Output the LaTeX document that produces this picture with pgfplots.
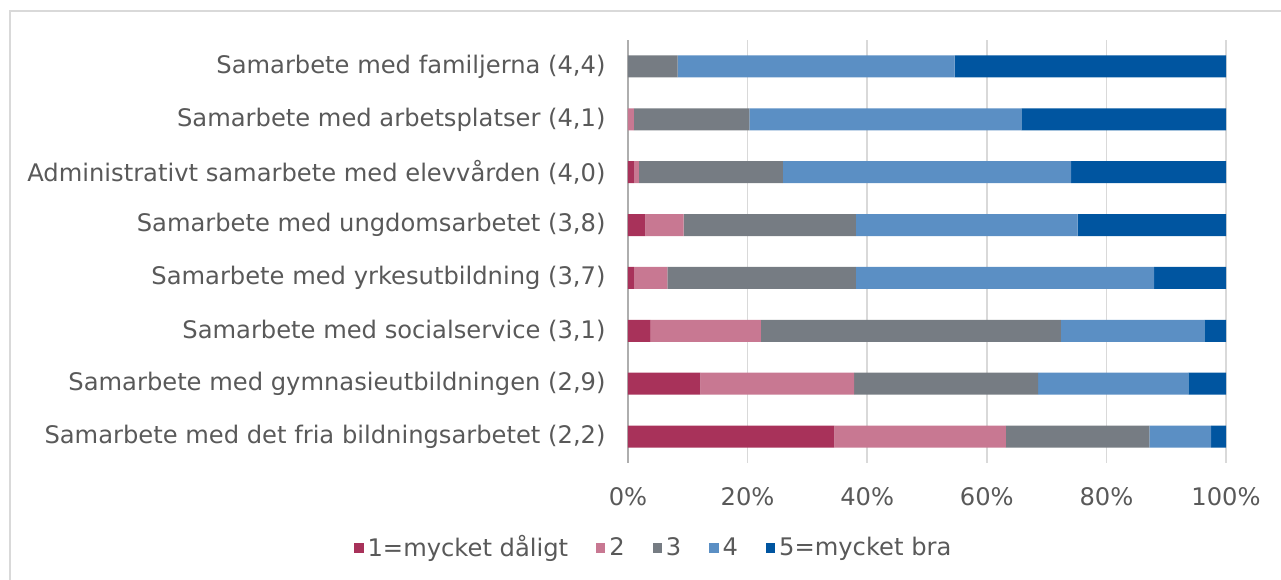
\documentclass[border=0pt]{standalone}
\usepackage{fontspec}
\setmainfont{DejaVu Sans}
\usepackage{pgfplots}
\pgfplotsset{compat=1.18}
\definecolor{c1}{RGB}{168,50,90}
\definecolor{c2}{RGB}{200,120,146}
\definecolor{c3}{RGB}{118,124,131}
\definecolor{c4}{RGB}{91,143,196}
\definecolor{c5}{RGB}{0,85,160}
\definecolor{txt}{RGB}{89,89,89}
\definecolor{gridc}{RGB}{217,217,217}
\begin{document}
\fontsize{12.1}{14}\selectfont
\begin{tikzpicture}
\useasboundingbox (0,0) rectangle (640.5pt,-289.5pt);
\draw[gridc, line width=0.8pt] (5pt,-5.5pt) rectangle (660pt,-310pt);
\begin{axis}[
  at={(314pt,-231.5pt)}, anchor=south west,
  scale only axis, width=299pt, height=211.5pt,
  xbar stacked, bar width=11pt,
  xmin=0, xmax=100, ymin=-0.5, ymax=7.5, y dir=reverse,
  xtick={0,20,40,60,80,100},
  xticklabels={0\%,20\%,40\%,60\%,80\%,100\%},
  ytick={0,...,7},
  yticklabels={{Samarbete med familjerna (4,4)},
    {Samarbete med arbetsplatser (4,1)},
    {Administrativt samarbete med elevvården (4,0)},
    {Samarbete med ungdomsarbetet (3,8)},
    {Samarbete med yrkesutbildning (3,7)},
    {Samarbete med socialservice (3,1)},
    {Samarbete med gymnasieutbildningen (2,9)},
    {Samarbete med det fria bildningsarbetet (2,2)}},
  major tick length=0pt,
  axis x line*=bottom, axis y line*=left,
  x axis line style={draw=none},
  y axis line style={draw=gridc!80!black, line width=0.8pt},
  xmajorgrids, grid style={draw=gridc, line width=0.8pt},
  tick label style={text=txt, font=\fontsize{12.1}{14}\selectfont},
  xticklabel style={yshift=-8pt},
  yticklabel style={xshift=-7pt},
  legend style={at={(0.045,-0.201)}, anchor=center, draw=none, fill=none,
    legend columns=5, text=txt, font=\fontsize{12.1}{14}\selectfont,
    /tikz/every even column/.append style={column sep=12pt}},
  legend cell align=left,
  legend image code/.code={\fill[#1] (0pt,-2.4pt) rectangle (4.6pt,2.4pt);},
]
\addplot[fill=c1, draw=none] coordinates {(0,0) (0,1) (1.0,2) (2.9,3) (1.0,4) (3.8,5) (12.1,6) (34.5,7)};
\addplot[fill=c2, draw=none] coordinates {(0,0) (1.0,1) (0.8,2) (6.4,3) (5.6,4) (18.4,5) (25.7,6) (28.7,7)};
\addplot[fill=c3, draw=none] coordinates {(8.3,0) (19.3,1) (24.1,2) (28.8,3) (31.5,4) (50.2,5) (30.8,6) (24.0,7)};
\addplot[fill=c4, draw=none] coordinates {(46.3,0) (45.5,1) (48.2,2) (37.1,3) (49.9,4) (24.0,5) (25.1,6) (10.3,7)};
\addplot[fill=c5, draw=none] coordinates {(45.4,0) (34.2,1) (25.9,2) (24.8,3) (12.0,4) (3.6,5) (6.3,6) (2.5,7)};
\legend{1=mycket dåligt,2,3,4,5=mycket bra}
\end{axis}
\end{tikzpicture}
\end{document}
